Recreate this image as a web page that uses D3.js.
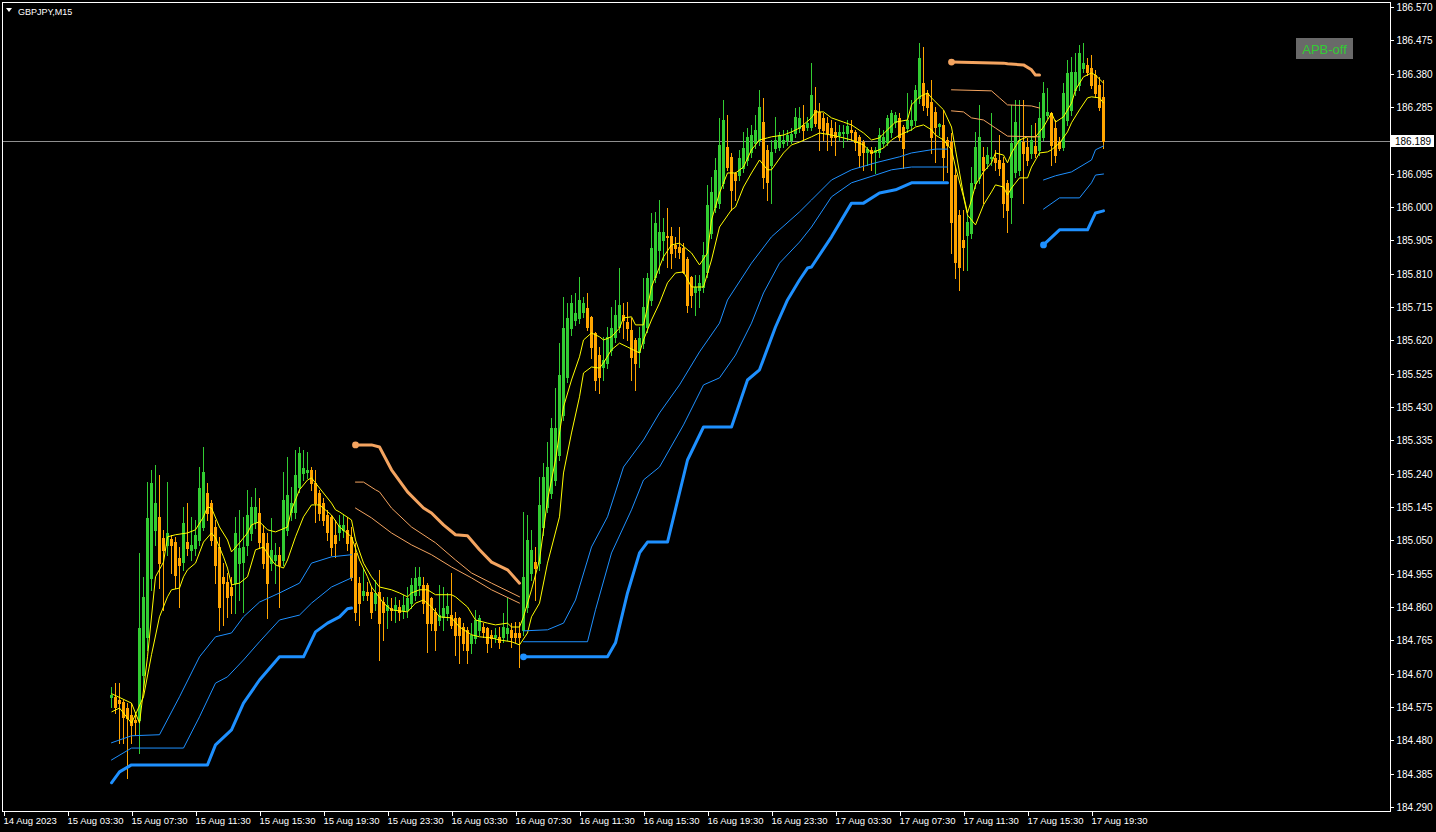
<!DOCTYPE html>
<html><head><meta charset="utf-8">
<script src="https://cdn.jsdelivr.net/npm/d3@7"></script>
<style>html,body{margin:0;padding:0;background:#000;overflow:hidden}</style>
</head><body><svg id="c" width="1436" height="832"></svg>
<script>
const symbolTitle = "GBPJPY,M15";
const buttonLabel = "APB-off";
const timeTickBars = [0,16,32,48,64,80,96,112,128,144,160,176,192,208,224,240,256,272];
const timeLabels = ["14 Aug 2023","15 Aug 03:30","15 Aug 07:30","15 Aug 11:30","15 Aug 15:30","15 Aug 19:30","15 Aug 23:30","16 Aug 03:30","16 Aug 07:30","16 Aug 11:30","16 Aug 15:30","16 Aug 19:30","16 Aug 23:30","17 Aug 03:30","17 Aug 07:30","17 Aug 11:30","17 Aug 15:30","17 Aug 19:30"];
const priceTicks = [186.570,186.475,186.380,186.285,186.095,186.000,185.905,185.810,185.715,185.620,185.525,185.430,185.335,185.240,185.145,185.050,184.955,184.860,184.765,184.670,184.575,184.480,184.385,184.290];
const bidPrice = 186.189;

// [bar, open, high, low, close]
const candles = [
[27,184.604,184.632,184.575,184.610],[28,184.604,184.643,184.558,184.575],[29,184.595,184.643,184.472,184.586],[30,184.589,184.595,184.472,184.547],
[31,184.572,184.586,184.373,184.544],[32,184.553,184.586,184.472,184.524],[33,184.538,184.561,184.496,184.532],[34,184.538,185.014,184.444,184.800],
[35,184.667,184.946,184.624,184.889],[36,184.775,185.216,184.738,185.114],[37,184.943,185.251,184.909,185.213],[38,185.080,185.265,185.037,185.156],
[39,185.117,185.237,184.914,184.985],[40,185.057,185.080,184.852,185.023],[41,185.037,185.216,185.009,185.071],[42,185.054,185.066,184.957,185.037],
[43,185.045,185.060,184.914,184.952],[44,185.000,185.031,184.860,184.980],[45,184.988,185.145,184.966,185.100],[46,185.045,185.156,185.009,185.028],
[47,185.023,185.117,184.994,185.037],[48,185.028,185.108,185.009,185.066],[49,185.051,185.259,185.037,185.199],[50,185.088,185.316,185.080,185.245],
[51,185.185,185.213,185.108,185.128],[52,185.156,185.165,185.037,185.051],[53,185.088,185.108,184.928,184.980],[54,185.031,185.060,184.795,184.860],
[55,184.946,184.985,184.809,184.928],[56,184.931,184.957,184.832,184.889],[57,184.917,184.946,184.843,184.895],[58,184.928,185.117,184.843,185.071],
[59,184.985,185.137,184.880,185.028],[60,184.988,185.117,184.846,185.031],[61,185.037,185.194,185.009,185.122],[62,185.071,185.174,185.051,185.145],
[63,185.103,185.199,185.085,185.145],[64,185.128,185.171,185.028,185.045],[65,185.071,185.094,184.971,184.985],[66,185.043,185.071,184.829,184.928],
[67,184.985,185.114,184.966,185.023],[68,184.994,185.043,184.928,185.009],[69,185.009,185.031,184.860,184.980],[70,184.994,185.245,184.980,185.165],
[71,185.080,185.288,185.066,185.180],[72,185.131,185.202,185.108,185.156],[73,185.131,185.308,185.114,185.237],[74,185.202,185.316,185.188,185.299],
[75,185.242,185.308,185.222,185.256],[76,185.245,185.302,185.228,185.251],[77,185.251,185.259,185.194,185.213],[78,185.213,185.251,185.103,185.156],
[79,185.185,185.194,185.108,185.128],[80,185.156,185.171,185.094,185.108],[81,185.122,185.137,185.051,185.074],[82,185.117,185.122,185.009,185.031],
[83,185.066,185.108,185.003,185.043],[84,185.074,185.122,185.051,185.094],[85,185.080,185.122,185.060,185.094],[86,185.080,185.117,185.023,185.043],
[87,185.060,185.088,184.937,184.946],[88,185.014,185.043,184.823,184.846],[89,184.928,184.946,184.809,184.871],[90,184.895,184.971,184.880,184.906],
[91,184.903,184.931,184.880,184.895],[92,184.903,184.917,184.829,184.846],[93,184.871,184.937,184.852,184.900],[94,184.903,184.966,184.709,184.814],
[95,184.874,184.889,184.766,184.846],[96,184.852,184.889,184.800,184.866],[97,184.857,184.886,184.823,184.852],[98,184.852,184.889,184.817,184.866],
[99,184.860,184.880,184.823,184.846],[100,184.852,184.895,184.829,184.866],[101,184.852,184.917,184.832,184.886],[102,184.871,184.943,184.857,184.923],
[103,184.895,184.974,184.880,184.943],[104,184.923,184.974,184.895,184.946],[105,184.923,184.946,184.843,184.871],[106,184.923,184.928,184.732,184.814],
[107,184.886,184.889,184.795,184.814],[108,184.846,184.857,184.738,184.795],[109,184.823,184.923,184.809,184.837],[110,184.832,184.917,184.795,184.857],
[111,184.843,184.900,184.823,184.863],[112,184.837,184.957,184.800,184.809],[113,184.829,184.846,184.724,184.781],[114,184.829,184.832,184.701,184.781],
[115,184.803,184.814,184.738,184.758],[116,184.795,184.803,184.701,184.738],[117,184.758,184.814,184.729,184.781],[118,184.772,184.852,184.758,184.823],
[119,184.795,184.837,184.781,184.829],[120,184.803,184.814,184.775,184.789],[121,184.800,184.803,184.732,184.758],[122,184.781,184.795,184.746,184.772],
[123,184.775,184.800,184.761,184.781],[124,184.775,184.803,184.743,184.761],[125,184.775,184.843,184.761,184.803],[126,184.786,184.886,184.766,184.800],
[127,184.795,184.814,184.746,184.775],[128,184.786,184.817,184.761,184.775],[129,184.786,184.817,184.690,184.775],[130,184.795,185.131,184.781,184.946],
[131,184.860,185.122,184.846,185.051],[132,184.957,185.080,184.937,185.023],[133,184.988,185.031,184.880,184.971],[134,184.985,185.231,184.966,185.151],
[135,185.088,185.271,185.066,185.231],[136,185.145,185.331,185.131,185.259],[137,185.185,185.399,185.171,185.371],[138,185.222,185.484,185.208,185.371],
[139,185.294,185.612,185.279,185.521],[140,185.407,185.744,185.393,185.655],[141,185.516,185.726,185.501,185.684],[142,185.655,185.749,185.635,185.726],
[143,185.678,185.755,185.664,185.698],[144,185.684,185.801,185.669,185.735],[145,185.701,185.744,185.687,185.726],[146,185.712,185.755,185.650,185.658],
[147,185.687,185.690,185.570,185.601],[148,185.641,185.644,185.479,185.507],[149,185.578,185.601,185.470,185.516],[150,185.544,185.630,185.507,185.564],
[151,185.556,185.658,185.541,185.630],[152,185.593,185.715,185.578,185.655],[153,185.630,185.735,185.615,185.692],[154,185.658,185.826,185.644,185.721],
[155,185.692,185.726,185.627,185.678],[156,185.672,185.729,185.621,185.655],[157,185.650,185.684,185.507,185.573],[158,185.621,185.627,185.479,185.556],
[159,185.587,185.658,185.544,185.627],[160,185.612,185.798,185.598,185.715],[161,185.658,185.812,185.644,185.798],[162,185.735,185.983,185.721,185.883],
[163,185.801,185.986,185.786,185.954],[164,185.878,186.020,185.812,185.929],[165,185.906,185.969,185.849,185.929],[166,185.917,185.997,185.829,185.915],
[167,185.917,185.943,185.826,185.869],[168,185.892,185.915,185.858,185.883],[169,185.886,185.943,185.855,185.872],[170,185.883,185.897,185.812,185.815],
[171,185.852,185.858,185.701,185.721],[172,185.801,185.804,185.715,185.749],[173,185.758,185.806,185.692,185.772],[174,185.764,185.806,185.715,185.784],
[175,185.772,185.900,185.758,185.863],[176,185.815,186.063,185.801,186.006],[177,185.926,186.086,185.912,186.043],[178,186.000,186.140,185.986,186.106],
[179,186.011,186.254,185.997,186.177],[180,186.069,186.305,186.054,186.248],[181,186.171,186.262,186.106,186.114],[182,186.143,186.154,185.992,186.049],
[183,186.097,186.100,186.020,186.077],[184,186.091,186.163,186.077,186.140],[185,186.111,186.214,186.100,186.168],[186,186.134,186.225,186.120,186.200],
[187,186.157,186.234,186.143,186.205],[188,186.182,186.262,186.168,186.220],[189,186.191,186.334,186.177,186.285],[190,186.242,186.311,186.054,186.086],
[191,186.163,186.177,186.020,186.071],[192,186.120,186.191,186.011,186.157],[193,186.168,186.257,186.157,186.191],[194,186.171,186.214,186.163,186.205],
[195,186.182,186.220,186.171,186.191],[196,186.191,186.220,186.177,186.205],[197,186.191,186.225,186.182,186.208],[198,186.211,186.282,186.200,186.257],
[199,186.225,186.285,186.214,186.254],[200,186.234,186.291,186.191,186.220],[201,186.228,186.257,186.220,186.240],[202,186.228,186.410,186.220,186.319],
[203,186.277,186.342,186.231,186.240],[204,186.271,186.296,186.163,186.225],[205,186.254,186.268,186.191,186.220],[206,186.240,186.257,186.163,186.211],
[207,186.225,186.248,186.177,186.200],[208,186.214,186.242,186.148,186.200],[209,186.205,186.234,186.191,186.214],[210,186.211,186.234,186.171,186.214],
[211,186.211,186.248,186.191,186.231],[212,186.220,186.248,186.191,186.214],[213,186.214,186.220,186.163,186.185],[214,186.200,186.205,186.114,186.148],
[215,186.185,186.191,186.106,186.157],[216,186.157,186.171,186.120,186.165],[217,186.163,186.171,186.106,186.154],[218,186.157,186.171,186.097,186.163],
[219,186.157,186.225,186.143,186.205],[220,186.182,186.220,186.171,186.200],[221,186.185,186.262,186.177,186.254],[222,186.214,186.277,186.200,186.268],
[223,186.242,186.271,186.228,186.262],[224,186.254,186.268,186.191,186.200],[225,186.228,186.234,186.111,186.168],[226,186.225,186.325,186.214,186.248],
[227,186.234,186.305,186.220,186.248],[228,186.248,186.348,186.234,186.334],[229,186.311,186.467,186.296,186.425],[230,186.353,186.456,186.277,186.291],
[231,186.325,186.334,186.262,186.285],[232,186.299,186.362,186.154,186.200],[233,186.271,186.285,186.128,186.228],[234,186.231,186.240,186.205,186.237],
[235,186.234,186.277,186.077,186.143],[236,186.191,186.200,186.100,186.177],[237,186.185,186.211,185.869,185.957],[238,186.091,186.114,185.798,185.843],
[239,185.977,185.992,185.764,185.829],[240,185.906,185.992,185.821,185.886],[241,185.920,185.977,185.821,185.957],[242,185.926,186.114,185.912,186.069],
[243,186.069,186.214,186.054,186.171],[244,186.083,186.291,186.069,186.200],[245,186.143,186.171,186.011,186.106],[246,186.126,186.171,186.111,186.148],
[247,186.140,186.268,186.120,186.143],[248,186.140,186.163,186.106,186.128],[249,186.134,186.205,186.091,186.111],[250,186.126,186.143,185.972,186.011],
[251,186.069,186.077,185.929,185.992],[252,186.029,186.291,185.954,186.182],[253,186.100,186.305,186.086,186.242],[254,186.106,186.305,186.091,186.191],
[255,186.185,186.305,186.011,186.154],[256,186.171,186.197,186.120,186.134],[257,186.154,186.234,186.140,186.191],[258,186.174,186.240,186.143,186.154],
[259,186.163,186.299,186.148,186.254],[260,186.200,186.356,186.191,186.325],[261,186.262,186.339,186.254,186.271],[262,186.268,186.271,186.120,186.177],
[263,186.225,186.248,186.128,186.148],[264,186.185,186.200,186.163,186.168],[265,186.171,186.353,186.163,186.325],[266,186.248,186.419,186.234,186.382],
[267,186.277,186.428,186.262,186.385],[268,186.334,186.439,186.319,186.385],[269,186.348,186.462,186.334,186.439],[270,186.396,186.467,186.385,186.410],
[271,186.405,186.425,186.376,186.385],[272,186.396,186.433,186.339,186.348],[273,186.376,186.391,186.314,186.325],[274,186.348,186.371,186.277,186.285],
[275,186.314,186.362,186.168,186.189]
];

// [bar, value]
const fastMA = [[27,184.613],[32,184.586],[34,184.529],[36,184.718],[38,184.946],[40,184.988],[41,185.060],[43,185.066],[46,185.071],[48,185.080],[50,185.117],[51,185.145],[52,185.142],[54,185.088],[56,185.051],[57,185.017],[59,185.043],[61,185.071],[62,185.094],[64,185.103],[66,185.080],[68,185.074],[71,185.088],[72,185.137],[74,185.194],[76,185.222],[77,185.228],[79,185.199],[82,185.156],[83,185.137],[84,185.131],[87,185.108],[88,185.051],[90,184.985],[92,184.946],[94,184.917],[97,184.909],[99,184.900],[101,184.889],[102,184.900],[104,184.909],[106,184.909],[108,184.895],[112,184.895],[113,184.889],[116,184.860],[118,184.823],[121,184.814],[123,184.809],[126,184.814],[127,184.803],[129,184.803],[130,184.832],[132,184.909],[134,184.994],[136,185.165],[138,185.279],[139,185.356],[140,185.430],[142,185.507],[144,185.573],[145,185.621],[147,185.641],[149,185.630],[150,185.621],[152,185.630],[154,185.655],[155,185.684],[157,185.687],[158,185.664],[160,185.664],[161,185.715],[162,185.772],[165,185.858],[167,185.892],[169,185.897],[172,185.869],[174,185.835],[176,185.869],[177,185.963],[179,186.040],[181,186.097],[183,186.097],[185,186.114],[187,186.163],[189,186.191],[191,186.197],[192,186.200],[195,186.205],[197,186.214],[199,186.225],[202,186.254],[203,186.271],[205,186.271],[207,186.254],[210,186.242],[212,186.234],[215,186.211],[217,186.191],[219,186.197],[221,186.220],[223,186.242],[226,186.248],[227,186.291],[229,186.314],[231,186.325],[232,186.311],[235,186.277],[237,186.228],[238,186.163],[240,186.034],[241,185.983],[242,186.020],[243,186.063],[245,186.100],[247,186.126],[248,186.154],[250,186.148],[251,186.126],[252,186.154],[254,186.191],[256,186.200],[258,186.200],[260,186.228],[262,186.268],[263,186.242],[265,186.257],[267,186.296],[268,186.334],[270,186.371],[272,186.382],[273,186.376],[275,186.353]];
const slowMA = [[27,184.561],[29,184.572],[32,184.529],[35,184.604],[37,184.724],[39,184.832],[41,184.889],[42,184.909],[44,184.914],[45,184.946],[46,184.966],[48,184.985],[50,185.045],[52,185.071],[53,185.057],[55,185.003],[56,184.971],[57,184.923],[59,184.928],[61,184.946],[63,185.023],[65,185.031],[67,184.994],[68,184.980],[70,184.971],[71,184.994],[73,185.060],[75,185.117],[77,185.151],[79,185.151],[82,185.122],[84,185.088],[87,185.060],[89,184.994],[91,184.946],[92,184.917],[95,184.871],[97,184.852],[101,184.846],[103,184.871],[105,184.880],[107,184.860],[109,184.832],[112,184.829],[114,184.803],[117,184.781],[119,184.775],[122,184.772],[124,184.766],[127,184.761],[129,184.752],[131,184.786],[132,184.832],[134,184.871],[136,184.985],[139,185.117],[140,185.242],[142,185.356],[144,185.459],[145,185.527],[147,185.544],[149,185.541],[150,185.556],[152,185.593],[154,185.612],[156,185.601],[159,185.584],[160,185.621],[162,185.678],[164,185.726],[166,185.784],[168,185.812],[170,185.815],[172,185.772],[175,185.772],[177,185.849],[179,185.943],[182,185.992],[183,186.000],[185,186.057],[187,186.097],[189,186.134],[191,186.106],[192,186.106],[195,186.154],[197,186.177],[199,186.185],[202,186.200],[204,186.211],[207,186.205],[210,186.197],[212,186.191],[215,186.177],[217,186.154],[220,186.168],[222,186.191],[224,186.205],[227,186.220],[228,186.228],[230,186.234],[232,186.220],[233,186.205],[235,186.191],[237,186.163],[238,186.114],[240,186.029],[241,185.977],[243,185.949],[245,186.006],[247,186.043],[248,186.063],[250,186.057],[251,186.034],[252,186.054],[254,186.083],[256,186.083],[257,186.114],[259,186.154],[261,186.157],[262,186.163],[264,186.182],[266,186.214],[267,186.240],[269,186.277],[271,186.311],[272,186.314],[274,186.311],[275,186.296]];

// trailing bands, split into segments
const blueUpper = [
 [[27,184.473],[32,184.493],[39,184.496],[44,184.604],[49,184.718],[53,184.775],[57,184.786],[60,184.832],[64,184.874],[69,184.900],[74,184.928],[77,184.985],[82,185.003],[87,185.009]],
 [[130,184.792],[136,184.795],[140,184.814],[143,184.880],[147,185.031],[151,185.117],[155,185.259],[160,185.336],[164,185.413],[169,185.493],[174,185.587],[179,185.669],[181,185.735],[187,185.840],[192,185.915],[199,185.986],[202,186.020],[207,186.077],[212,186.106],[218,186.126],[224,186.143],[227,186.154],[233,186.165],[236,186.165]],
 [[260,186.077],[263,186.089],[267,186.100],[272,186.134],[273,186.163],[275,186.174]]
];
const blueMiddle = [
 [[27,184.424],[32,184.458],[45,184.458],[49,184.547],[53,184.643],[56,184.661],[60,184.709],[64,184.761],[69,184.823],[74,184.837],[77,184.871],[82,184.917],[87,184.943]],
 [[130,184.761],[146,184.761],[148,184.852],[152,185.014],[157,185.137],[160,185.222],[164,185.259],[170,185.379],[175,185.493],[179,185.513],[183,185.578],[187,185.669],[190,185.755],[194,185.840],[199,185.900],[202,185.943],[207,186.029],[212,186.069],[218,186.091],[222,186.106],[227,186.114],[236,186.114]],
 [[260,185.994],[264,186.026],[269,186.026],[272,186.069],[273,186.091],[275,186.094]]
];
const blueStop = [
 [[27,184.359],[29,184.390],[32,184.410],[51,184.410],[53,184.467],[57,184.510],[60,184.586],[64,184.652],[69,184.718],[75,184.718],[78,184.789],[81,184.814],[84,184.832],[86,184.855],[87,184.857]],
 [[130,184.718],[151,184.718],[153,184.758],[156,184.900],[159,185.014],[161,185.045],[166,185.045],[171,185.279],[175,185.373],[182,185.373],[186,185.507],[189,185.536],[193,185.658],[196,185.735],[199,185.792],[201,185.826],[202,185.829],[207,185.915],[212,186.011],[215,186.011],[219,186.040],[223,186.049],[227,186.069],[236,186.069]],
 [[260,185.892],[264,185.935],[271,185.935],[273,185.983],[275,185.989]]
];
const orangeStop = [
 [[88,185.322],[92,185.322],[94,185.316],[97,185.251],[101,185.188],[105,185.142],[107,185.128],[110,185.094],[113,185.066],[116,185.063],[119,185.023],[122,184.988],[126,184.966],[129,184.928]],
 [[237,186.413],[250,186.410],[251,186.408],[255,186.405],[257,186.391],[258,186.376],[259,186.376]]
];
const orangeMiddle = [
 [[88,185.216],[90,185.216],[93,185.194],[94,185.188],[97,185.142],[102,185.088],[108,185.043],[113,184.994],[117,184.957],[122,184.928],[129,184.889]],
 [[237,186.334],[247,186.331],[249,186.311],[251,186.291],[257,186.288],[259,186.282]]
];
const orangeLower = [
 [[88,185.142],[92,185.114],[97,185.071],[102,185.037],[107,185.009],[112,184.974],[117,184.943],[122,184.909],[129,184.871]],
 [[237,186.274],[240,186.271],[242,186.254],[245,186.248],[248,186.225],[251,186.202],[259,186.200]]
];

const W = 1436, H = 832;
const FONT = "'Liberation Sans', Arial, sans-serif";
const svg = d3.select("#c");
svg.append("rect").attr("width", W).attr("height", H).attr("fill", "#000");

const x = d3.scaleLinear().domain([0, 275]).range([3.5, 1103.5]);
const y = d3.scaleLinear().domain([184.290, 186.570]).range([807, 7]);

// bid line
svg.append("line").attr("x1", 2).attr("x2", 1390).attr("y1", Math.round(y(bidPrice)) + 0.5).attr("y2", Math.round(y(bidPrice)) + 0.5)
  .attr("stroke", "#8f8f8f").attr("stroke-width", 1);

const line = d3.line().x(d => x(d[0])).y(d => y(d[1]));
const plot = svg.append("g");

// candles
const up = "#32CD32", dn = "#FFA500";
const cg = plot.append("g").attr("shape-rendering", "crispEdges");
candles.forEach(([n, o, h, l, c]) => {
  const col = c >= o ? up : dn;
  const xc = x(n);
  cg.append("line").attr("x1", xc).attr("x2", xc).attr("y1", Math.round(y(h))).attr("y2", Math.round(y(l)) + 1)
    .attr("stroke", col).attr("stroke-width", 1);
  const top = Math.round(y(Math.max(o, c)));
  const bot = Math.round(y(Math.min(o, c)));
  cg.append("rect").attr("x", xc - 1.5).attr("y", top).attr("width", 3).attr("height", Math.max(1, bot - top + 1)).attr("fill", col);
});

// moving averages
[fastMA, slowMA].forEach(s => {
  plot.append("path").attr("d", line(s)).attr("fill", "none").attr("stroke", "#FFFF00").attr("stroke-width", 1);
});

function drawBand(segs, color, width, dots, skipFirstDot) {
  segs.forEach((s, i) => {
    plot.append("path").attr("d", line(s)).attr("fill", "none").attr("stroke", color)
      .attr("stroke-width", width).attr("stroke-linejoin", "round").attr("stroke-linecap", "round");
    if (dots && !(skipFirstDot && i === 0)) {
      plot.append("circle").attr("cx", x(s[0][0])).attr("cy", y(s[0][1])).attr("r", 3.4).attr("fill", color);
    }
  });
}
const blue = "#1E90FF", orange = "#F4A460";
drawBand(blueUpper, blue, 1, false);
drawBand(blueMiddle, blue, 1, false);
drawBand(blueStop, blue, 3, true, true);
drawBand(orangeMiddle, orange, 1, false);
drawBand(orangeLower, orange, 1, false);
drawBand(orangeStop, orange, 3, true, false);

// frame
svg.append("rect").attr("x", 2.5).attr("y", 2.5).attr("width", 1388).attr("height", 809)
  .attr("fill", "none").attr("stroke", "#fff").attr("stroke-width", 1).attr("shape-rendering", "crispEdges");

// price axis
const yAxis = d3.axisRight(y).tickValues(priceTicks).tickSize(3).tickSizeOuter(0).tickPadding(3).tickFormat(d3.format(".3f"));
const ya = svg.append("g").attr("transform", "translate(1390.5,0)").call(yAxis);
ya.select(".domain").remove();
ya.selectAll(".tick").attr("transform", d => `translate(0,${Math.round(y(d)) + 0.5})`);
ya.selectAll(".tick line").attr("stroke", "#fff").attr("shape-rendering", "crispEdges");
ya.selectAll(".tick text").attr("fill", "#fff").style("font-family", FONT).style("font-size", "10px");

// bid label
const by = Math.round(y(bidPrice));
svg.append("rect").attr("x", 1391).attr("y", by - 6).attr("width", 43).attr("height", 12).attr("fill", "#fff");
svg.append("text").attr("x", 1395).attr("y", by + 4).text(d3.format(".3f")(bidPrice))
  .attr("fill", "#000").style("font-family", FONT).style("font-size", "10px");

// time axis
const xAxis = d3.axisBottom(x).tickValues(timeTickBars).tickSize(4).tickSizeOuter(0).tickPadding(2).tickFormat((d, i) => timeLabels[i]);
const xa = svg.append("g").attr("transform", "translate(0,811.5)").call(xAxis);
xa.select(".domain").remove();
xa.selectAll(".tick line").attr("stroke", "#fff").attr("shape-rendering", "crispEdges");
xa.selectAll(".tick text").attr("fill", "#fff").attr("text-anchor", "start").attr("dx", -0.5)
  .style("font-family", FONT).style("font-size", "9.5px");

// title
svg.append("path").attr("d", "M6,8 L12,8 L9,12 Z").attr("fill", "#fff");
svg.append("text").attr("x", 18).attr("y", 14.5).text(symbolTitle).attr("fill", "#fff")
  .style("font-family", FONT).style("font-size", "9px");

// button
svg.append("rect").attr("x", 1296).attr("y", 38).attr("width", 57).attr("height", 21).attr("fill", "#696969");
svg.append("text").attr("x", 1324.5).attr("y", 53.5).attr("text-anchor", "middle").text(buttonLabel)
  .attr("fill", "#33CC33").style("font-family", FONT).style("font-size", "13px");
</script></body></html>
